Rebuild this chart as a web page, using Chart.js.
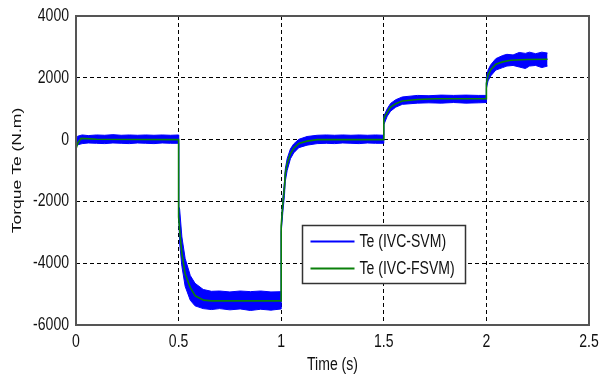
<!DOCTYPE html>
<html>
<head>
<meta charset="utf-8">
<script src="https://cdn.jsdelivr.net/npm/chart.js@4"></script>
<style>
  html, body { margin: 0; padding: 0; background: #fff; }
  #wrap { width: 600px; height: 378px; }
</style>
</head>
<body>
<div id="wrap"><canvas id="torque-chart" width="600" height="378"></canvas></div>
<script>
// FSVM torque response (N.m) vs time (s)
const fsvmTime = [0, 0.01, 0.025, 0.05, 0.1, 0.5, 0.5, 0.508, 0.516, 0.532, 0.557, 0.581, 0.622, 0.66, 1.0,
    1.0, 1.008, 1.016, 1.02, 1.029, 1.045, 1.061, 1.086, 1.126, 1.175, 1.5,
    1.5, 1.517, 1.533, 1.558, 1.59, 1.664, 1.75, 2.0,
    2.0, 2.008, 2.021, 2.046, 2.079, 2.119, 2.2, 2.298];
const fsvmTorque = [-300, -100, 40, 30, 10, 0, -2500, -3160, -3690, -4340, -4790, -5055, -5195, -5220, -5220,
    -2800, -2070, -1530, -1100, -770, -450, -280, -125, -50, 0, 0,
    680, 890, 1050, 1160, 1250, 1300, 1320, 1320,
    1810, 2080, 2265, 2440, 2515, 2570, 2590, 2600];

// SVM torque ripple band: upper and lower envelope
const svmTime = [0, 0.008, 0.03, 0.06, 0.1, 0.14, 0.18, 0.22, 0.26, 0.3, 0.34, 0.38, 0.42, 0.46, 0.5,
    0.5, 0.505, 0.516, 0.532, 0.557, 0.58, 0.62, 0.66, 0.7, 0.75, 0.8, 0.85, 0.9, 0.95, 1.0,
    1.0, 1.008, 1.016, 1.02, 1.029, 1.045, 1.061, 1.086, 1.126, 1.175, 1.22, 1.26, 1.3, 1.34, 1.38, 1.42, 1.46, 1.5,
    1.5, 1.517, 1.533, 1.558, 1.59, 1.664, 1.72, 1.78, 1.84, 1.9, 1.96, 2.0,
    2.0, 2.008, 2.021, 2.046, 2.079, 2.1, 2.13, 2.16, 2.19, 2.21, 2.24, 2.27, 2.298];
const svmUpper = [-60, 110, 150, 130, 150, 140, 160, 140, 150, 140, 150, 140, 150, 140, 150,
    -2150, -2250, -3150, -3850, -4400, -4650, -4850, -4910, -4900, -4930, -4900, -4920, -4900, -4930, -4920,
    -2850, -1900, -1350, -950, -620, -300, -140, 10, 100, 140, 150, 140, 150, 140, 150, 140, 150, 140,
    760, 1000, 1170, 1290, 1380, 1430, 1420, 1440, 1430, 1440, 1430, 1430,
    2000, 2250, 2420, 2620, 2720, 2760, 2740, 2820, 2790, 2830, 2780, 2830, 2800];
const svmLower = [-230, -170, -130, -110, -120, -130, -110, -120, -130, -110, -120, -130, -110, -120, -120,
    -2300, -3350, -4100, -4750, -5200, -5380, -5470, -5500, -5470, -5510, -5480, -5530, -5490, -5520, -5480,
    -3000, -2350, -1800, -1350, -1000, -620, -430, -260, -180, -130, -120, -130, -110, -120, -130, -110, -120, -120,
    480, 760, 920, 1050, 1140, 1180, 1190, 1180, 1200, 1180, 1190, 1200,
    1650, 1900, 2060, 2250, 2330, 2380, 2400, 2350, 2300, 2380, 2400, 2330, 2380];

const timeTicks = [0, 0.5, 1, 1.5, 2, 2.5];
const torqueTicks = [-6000, -4000, -2000, 0, 2000, 4000];
const seriesLabels = ['Te (IVC-SVM)', 'Te (IVC-FSVM)'];
const xTitle = 'Time (s)';
const yTitle = 'Torque Te (N.m)';

const blue = '#0000ff';
const green = '#0a800a';
const textColor = '#111';
const sans = '"Liberation Sans", Arial, sans-serif';
const squeeze = 0.78;   // condensed lettering

const toPoints = (xs, ys) => xs.map((x, i) => ({x: x, y: ys[i]}));

// draws condensed text aligned on (x, y)
const squeezedText = (ctx, text, x, y, align) => {
    ctx.save();
    ctx.translate(x, y);
    ctx.scale(squeeze, 1);
    ctx.textAlign = align;
    ctx.fillText(text, 0, 0);
    ctx.restore();
};

// box frame, tick labels, axis titles and legend
const framePlugin = {
    id: 'frameLegend',
    afterDraw(chart) {
        const {ctx, chartArea: a, scales} = chart;
        const w = a.right - a.left, h = a.bottom - a.top;
        ctx.save();
        ctx.strokeStyle = '#555';
        ctx.lineWidth = 2;
        ctx.strokeRect(a.left, a.top, w, h);

        ctx.fillStyle = textColor;
        ctx.font = '18px ' + sans;
        ctx.textBaseline = 'middle';
        timeTicks.forEach(v => squeezedText(ctx, String(v), scales.x.getPixelForValue(v), a.bottom + 17, 'center'));
        torqueTicks.forEach(v => squeezedText(ctx, String(v), a.left - 7, scales.y.getPixelForValue(v), 'right'));
        squeezedText(ctx, xTitle, (a.left + a.right) / 2, a.bottom + 40, 'center');

        ctx.save();
        ctx.translate(17, (a.top + a.bottom) / 2);
        ctx.rotate(-Math.PI / 2);
        ctx.scale(1, squeeze);
        ctx.font = '17.5px ' + sans;
        ctx.textAlign = 'center';
        ctx.fillText(yTitle, 0, 0);
        ctx.restore();

        const bx = Math.round(a.left + w * 0.441) + 0.5;
        const by = Math.round(a.top + h * 0.676) + 0.5;
        const bw = 163, bh = 58;
        ctx.fillStyle = '#fff';
        ctx.fillRect(bx, by, bw, bh);
        ctx.strokeStyle = '#333';
        ctx.lineWidth = 1.5;
        ctx.strokeRect(bx, by, bw, bh);

        const rows = [[seriesLabels[0], blue], [seriesLabels[1], green]];
        rows.forEach((r, i) => {
            const y = by + 16 + i * 27;
            ctx.strokeStyle = r[1];
            ctx.lineWidth = 2;
            ctx.beginPath();
            ctx.moveTo(bx + 8, y);
            ctx.lineTo(bx + 52, y);
            ctx.stroke();
            ctx.fillStyle = textColor;
            squeezedText(ctx, r[0], bx + 57, y + 1, 'left');
        });
        ctx.restore();
    }
};

new Chart(document.getElementById('torque-chart'), {
    type: 'line',
    data: {
        datasets: [{
            label: seriesLabels[1],
            data: toPoints(fsvmTime, fsvmTorque),
            borderColor: green,
            borderWidth: 1.6,
            pointRadius: 0,
            tension: 0,
            fill: false
        }, {
            label: seriesLabels[0],
            data: toPoints(svmTime, svmUpper),
            borderColor: blue,
            backgroundColor: blue,
            borderWidth: 1,
            pointRadius: 0,
            tension: 0,
            fill: '+1'
        }, {
            label: seriesLabels[0] + ' low',
            data: toPoints(svmTime, svmLower),
            borderColor: blue,
            borderWidth: 1,
            pointRadius: 0,
            tension: 0,
            fill: false
        }]
    },
    options: {
        responsive: false,
        animation: false,
        devicePixelRatio: 1,
        layout: {padding: {top: 16, right: 11, left: 0, bottom: 0}},
        plugins: {legend: {display: false}, tooltip: {enabled: false}},
        scales: {
            x: {
                type: 'linear',
                min: 0,
                max: 2.5,
                afterFit: s => { s.height = 53; },
                afterBuildTicks: s => { s.ticks = timeTicks.map(v => ({value: v})); },
                grid: {color: '#000', lineWidth: 1, drawTicks: false},
                border: {display: false, dash: [4, 3]},
                ticks: {display: false}
            },
            y: {
                min: -6000,
                max: 4000,
                afterFit: s => { s.width = 76; },
                afterBuildTicks: s => { s.ticks = torqueTicks.map(v => ({value: v})); },
                grid: {color: '#000', lineWidth: 1, drawTicks: false},
                border: {display: false, dash: [4, 3]},
                ticks: {display: false}
            }
        }
    },
    plugins: [framePlugin]
});
</script>
</body>
</html>
